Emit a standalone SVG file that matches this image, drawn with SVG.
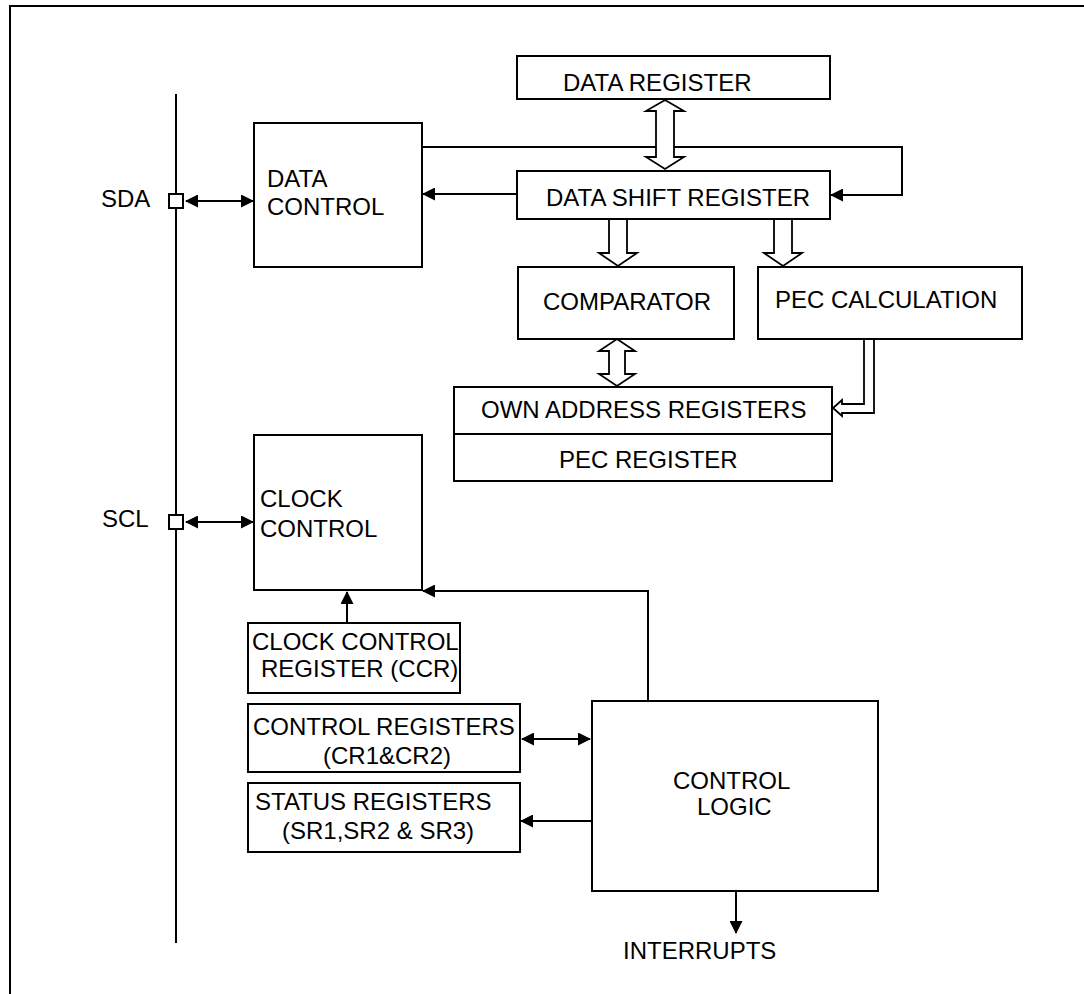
<svg xmlns="http://www.w3.org/2000/svg" width="1084" height="994" viewBox="0 0 1084 994">
<style>
.box{fill:#fff;stroke:#000;stroke-width:2}
.ln{fill:none;stroke:#000;stroke-width:2}
.hol{fill:#fff;stroke:#000;stroke-width:1.8;stroke-linejoin:miter}
text{font-family:"Liberation Sans",Arial,Helvetica,sans-serif;font-size:24px;fill:#000}
</style>
<defs>
<marker id="ah" viewBox="0 0 13 13" refX="12" refY="6.5" markerWidth="13" markerHeight="13" markerUnits="userSpaceOnUse" orient="auto-start-reverse">
<path d="M0,0 L13,6.5 L0,13 z" fill="#000"/>
</marker>
</defs>
<rect width="1084" height="994" fill="#fff"/>
<path d="M10,994 V6 H1084" class="ln"/>
<line x1="176" y1="94" x2="176" y2="943" class="ln"/>

<g id="connectors">
<line x1="186" y1="201" x2="253" y2="201" class="ln" marker-start="url(#ah)" marker-end="url(#ah)"/>
<line x1="186" y1="522" x2="253" y2="522" class="ln" marker-start="url(#ah)" marker-end="url(#ah)"/>
<polyline points="422,147 902,147 902,195 831,195" class="ln" marker-end="url(#ah)"/>
<line x1="517" y1="194" x2="423" y2="194" class="ln" marker-end="url(#ah)"/>
<line x1="347" y1="623" x2="347" y2="592" class="ln" marker-end="url(#ah)"/>
<polyline points="648,701 648,591 423,591" class="ln" marker-end="url(#ah)"/>
<line x1="522" y1="739" x2="590" y2="739" class="ln" marker-start="url(#ah)" marker-end="url(#ah)"/>
<line x1="597" y1="821" x2="521" y2="821" class="ln" marker-end="url(#ah)"/>
<line x1="736" y1="892" x2="736" y2="933" class="ln" marker-end="url(#ah)"/>
<polygon points="665,100 684,111 674,111 674,157 684,157 665,169 646,157 656,157 656,111 646,111" class="hol"/>
<polyline points="609,219 609,253 599,253 618,266 637,253 627,253 627,219" class="hol"/>
<polyline points="774,219 774,253 764,253 783,266 802,253 792,253 792,219" class="hol"/>
<polygon points="617,339 635,351 625,351 625,374 635,374 617,386 599,374 609,374 609,351 599,351" class="hol"/>
<polyline points="864,339 864,404 842,404 842,400 833,408 842,416 842,413 874,413 874,339" class="hol"/>
</g>

<g id="sda"><rect x="169" y="194" width="14" height="14" class="box"/><text x="101" y="207">SDA</text></g>
<g id="scl"><rect x="169" y="515" width="14" height="14" class="box"/><text x="102" y="527">SCL</text></g>
<g id="data-control"><rect x="254" y="123" width="168" height="144" class="box"/><text x="267" y="187">DATA</text><text x="267" y="215">CONTROL</text></g>
<g id="data-register"><rect x="517" y="56" width="313" height="43" class="box"/><text x="563" y="91">DATA REGISTER</text></g>
<g id="data-shift-register"><rect x="517" y="171" width="313" height="48" class="box"/><text x="546" y="206">DATA SHIFT REGISTER</text></g>
<g id="comparator"><rect x="518" y="267" width="216" height="72" class="box"/><text x="543" y="310">COMPARATOR</text></g>
<g id="pec-calculation"><rect x="758" y="267" width="264" height="72" class="box"/><text x="775" y="308">PEC CALCULATION</text></g>
<g id="own-address"><rect x="454" y="387" width="378" height="94" class="box"/><line x1="454" y1="434" x2="832" y2="434" class="ln"/><text x="481" y="418">OWN ADDRESS REGISTERS</text><text x="559" y="468">PEC REGISTER</text></g>
<g id="clock-control"><rect x="254" y="435" width="168" height="155" class="box"/><text x="260" y="507">CLOCK</text><text x="260" y="537">CONTROL</text></g>
<g id="ccr"><rect x="248" y="623" width="212" height="70" class="box"/><text x="252" y="650">CLOCK CONTROL</text><text x="261" y="677">REGISTER (CCR)</text></g>
<g id="control-registers"><rect x="248" y="704" width="272" height="68" class="box"/><text x="253" y="735">CONTROL REGISTERS</text><text x="323" y="764">(CR1&amp;CR2)</text></g>
<g id="status-registers"><rect x="248" y="783" width="272" height="69" class="box"/><text x="255" y="810">STATUS REGISTERS</text><text x="282" y="839">(SR1,SR2 &amp; SR3)</text></g>
<g id="control-logic"><rect x="592" y="701" width="286" height="190" class="box"/><text x="673" y="789">CONTROL</text><text x="697" y="815">LOGIC</text></g>
<g id="interrupts"><text x="623" y="959">INTERRUPTS</text></g>
</svg>
